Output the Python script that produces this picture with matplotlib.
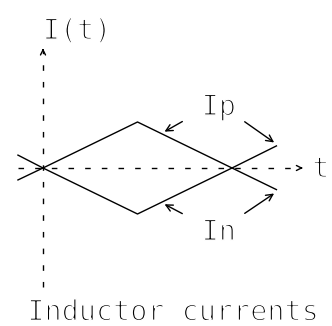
import matplotlib
matplotlib.use("Agg")
import matplotlib.pyplot as plt
import matplotlib.patheffects as pe

# triangle currents, t in switching half-periods, I normalised to peak
t = [-0.265, 0.0, 1.0, 2.0, 2.47]
i_p = [-0.26, 0.0, 1.0, 0.0, -0.47]
i_n = [0.28, 0.0, -1.0, 0.0, 0.48]

fig = plt.figure(figsize=(3.32, 3.26), dpi=100)
ax = fig.add_axes([0, 0, 1, 1])
ax.set_xlim(-0.455, 3.058)
ax.set_ylim(-3.435, 3.652)
ax.axis("off")

# thin strokes like the plotter font: erode the glyphs with a white outline
txt = dict(fontsize=20.5, family="DejaVu Sans Mono", va="baseline",
           path_effects=[pe.Stroke(linewidth=1.1, foreground="white")])
dash = (4, 8)

# axes (dashed, with small open arrow heads)
ax.plot([-0.265, 2.72], [0, 0], color="black", lw=1, dashes=dash)
ax.plot([0, 0], [-2.59, 2.55], color="black", lw=1, dashes=dash)
ax.annotate("", xy=(2.78, 0), xytext=(2.70, 0),
            arrowprops=dict(arrowstyle="->", lw=1, color="black", mutation_scale=9))
ax.annotate("", xy=(0, 2.66), xytext=(0, 2.5),
            arrowprops=dict(arrowstyle="->", lw=1, color="black", mutation_scale=9))

# currents
ax.plot(t, i_p, color="black", lw=1.0)
ax.plot(t, i_n, color="black", lw=1.0)

# labels
ax.text(0.36, 2.8, "I(t)", ha="center", **txt)
ax.text(2.94, -0.2, "t", ha="center", **txt)
ax.text(1.375, -3.312, "Inductor currents", ha="center", **txt)
ax.text(1.86, 1.15, "Ip", ha="center", **txt)
ax.text(1.86, -1.57, "In", ha="center", **txt)

arrow = dict(arrowstyle="->", lw=1, color="black", mutation_scale=12)
ax.annotate("", xy=(1.26, 0.76), xytext=(1.50, 1.04), arrowprops=arrow)
ax.annotate("", xy=(2.47, 0.52), xytext=(2.11, 1.04), arrowprops=arrow)
ax.annotate("", xy=(1.26, -0.76), xytext=(1.50, -1.02), arrowprops=arrow)
ax.annotate("", xy=(2.47, -0.52), xytext=(2.11, -1.02), arrowprops=arrow)

fig.savefig("out.png", dpi=100, facecolor="white")
